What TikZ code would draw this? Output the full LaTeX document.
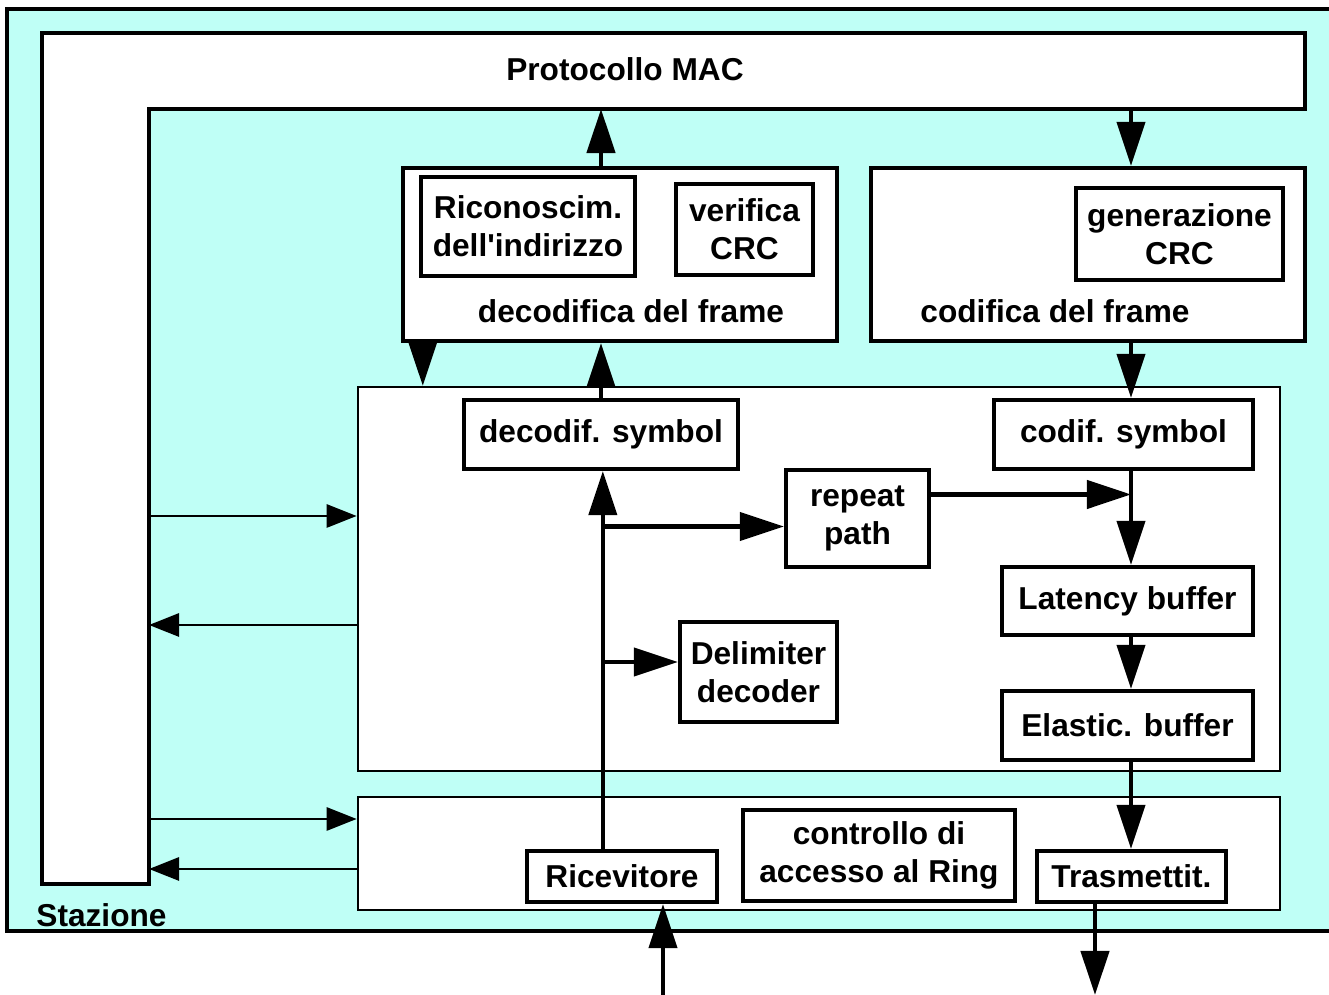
\documentclass[tikz,border=0pt]{standalone}
\usepackage{fontspec}
\setmainfont{Liberation Sans}
\usetikzlibrary{positioning, calc}
\usetikzlibrary{arrows.meta}

\begin{document}
\begin{tikzpicture}[x=0.01cm, y=-0.01cm, font=\fontsize{9}{10.8}\selectfont\bfseries, align=center,
        box/.style={draw, line width=1.2pt, fill=white, inner sep=0pt},
        panel/.style={draw, line width=0.6pt, fill=white, inner sep=0pt},
        arr/.style={-{Triangle[length=0.44cm, width=0.28cm]}, line width=1.2pt},
        thinarr/.style={-{Triangle[length=0.3cm, width=0.23cm]}, line width=0.8pt}]
        % Define colors
        \definecolor{stationcyan}{RGB}{191,255,246}

        \useasboundingbox (0,0) rectangle (1329,995);

        % Station
        \fill[stationcyan] (7,9) rectangle (1329,931);
        \draw[line width=1.2pt] (1329,9) -| (7,931) -- (1329,931);
        \node[anchor=west] (stazione) at (24,915) {Stazione};

        % MAC protocol (L shape)
        \draw[line width=1.2pt, fill=white] (42,33) -- (1305,33) -- (1305,109) -- (149,109) -- (149,884) -- (42,884) -- cycle;
        \node (mac) at (625,69) {Protocollo MAC};
        \coordinate (macup) at (601,109);
        \coordinate (macdown) at (1131,109);
        \coordinate (macbar) at (149,884);

        % Frame blocks
        \node[box, minimum width=4.34cm, minimum height=1.73cm] (decframe) at (620,254.5) {};
        \node[box, minimum width=2.14cm, minimum height=0.99cm] (ricon) at (528,226.5) {Riconoscim.\\dell\textquotesingle indirizzo};
        \node[box, minimum width=1.37cm, minimum height=0.91cm] (vercrc) at (744.5,229.5) {verifica\\CRC};
        \node (decframelbl) at (631,311) {decodifica del frame};
        \node[box, minimum width=4.34cm, minimum height=1.73cm] (codframe) at (1088,254.5) {};
        \node[box, minimum width=2.07cm, minimum height=0.92cm] (gencrc) at (1179.5,234) {generazione\\CRC};
        \node (codframelbl) at (1055,311) {codifica del frame};

        % Symbol panel
        \node[panel, minimum width=9.22cm, minimum height=3.84cm] (panel) at (819,579) {};
        \node[box, minimum width=2.74cm, minimum height=0.69cm] (decsym) at (601,434.5) {decodif. symbol};
        \node[box, minimum width=2.59cm, minimum height=0.69cm] (codsym) at (1123.5,434.5) {codif. symbol};
        \node[box, minimum width=1.43cm, minimum height=0.97cm] (repeat) at (857.5,518.5) {repeat\\path};
        \node[box, minimum width=2.51cm, minimum height=0.68cm] (latency) at (1127.5,601) {Latency buffer};
        \node[box, minimum width=1.57cm, minimum height=1.0cm] (delim) at (758.5,672) {Delimiter\\decoder};
        \node[box, minimum width=2.51cm, minimum height=0.69cm] (elastic) at (1127.5,725.5) {Elastic. buffer};

        % Physical panel
        \node[panel, minimum width=9.22cm, minimum height=1.13cm] (lowpanel) at (819,853.5) {};
        \node[box, minimum width=1.90cm, minimum height=0.51cm] (ricev) at (622,876.5) {Ricevitore};
        \node[box, minimum width=2.72cm, minimum height=0.91cm] (ctrl) at (879,855.5) {controllo di\\accesso al Ring};
        \node[box, minimum width=1.89cm, minimum height=0.51cm] (trasm) at (1131.5,876.5) {Trasmettit.};

        \coordinate (ringin) at (663,995);
        \coordinate (ringout) at (1095,995);
        \coordinate (dfdown) at ($(decframe.south west)+(22,0)$);
        \coordinate (rxup) at ($(ricev.north west)+(78,0)$);
        \coordinate (rpin) at ($(repeat.west)+(0,8)$);
        \coordinate (dlin) at ($(delim.west)+(0,-10)$);
        \coordinate (rpout) at ($(repeat.east)+(0,-24)$);

        % Edges
        \draw[arr] (decframe.north -| macup) -- (macup);
        \draw[arr] (macdown) -- (codframe.north -| macdown);
        \draw[arr] (dfdown) -- (dfdown |- panel.north);
        \draw[arr] (decsym.north) -- (decsym.north |- decframe.south);
        \draw[arr] (codframe.south -| macdown) -- (codsym.north -| macdown);
        \draw[arr] (rxup) -- (rxup |- decsym.south);
        \draw[arr] (rpin -| rxup) -- (rpin);
        \draw[arr] (dlin -| rxup) -- (dlin);
        \draw[arr] (rpout) -- (rpout -| macdown);
        \draw[arr] (codsym.south -| macdown) -- (latency.north -| macdown);
        \draw[arr] (latency.south -| macdown) -- (elastic.north -| macdown);
        \draw[arr] (elastic.south -| macdown) -- (trasm.north -| macdown);
        \draw[arr] (ringin) -- (ricev.south -| ringin);
        \draw[arr] (trasm.south -| ringout) -- (ringout);

        \foreach \y/\tgt in {516/panel, 819/lowpanel}
            \draw[thinarr] (macbar |- 0,\y) -- (\tgt.west |- 0,\y);
        \foreach \y/\src in {625/panel, 869/lowpanel}
            \draw[thinarr] (\src.west |- 0,\y) -- (macbar |- 0,\y);
    \end{tikzpicture}
\end{document}
